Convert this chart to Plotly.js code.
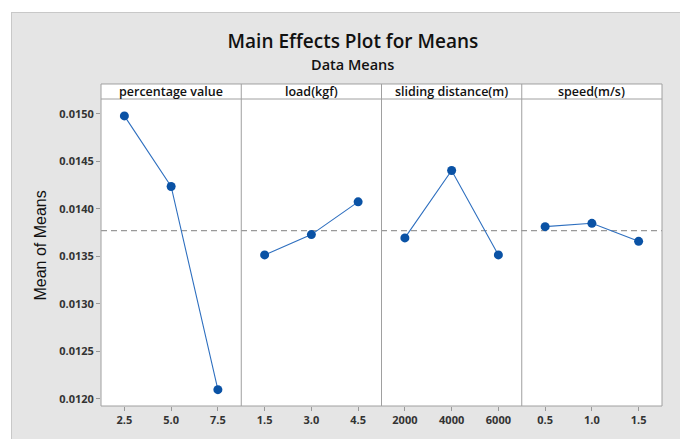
<!DOCTYPE html>
<html>
<head>
<meta charset="utf-8">
<script src="https://cdn.plot.ly/plotly-3.0.1.min.js"></script>
<style>
html,body{margin:0;padding:0;background:#ffffff;width:680px;height:439px;overflow:hidden;}
#bg{position:absolute;left:11px;top:12px;width:669px;height:427px;background:#e5e5e5;border-top:1px solid #c8c8c8;border-left:1px solid #c8c8c8;box-sizing:border-box;}
#chart{position:absolute;left:0;top:0;width:680px;height:439px;}
</style>
</head>
<body>
<div id="bg"></div>
<div id="chart"></div>
<script>
// ---- data ----
const factorNames = ["percentage value", "load(kgf)", "sliding distance(m)", "speed(m/s)"];
const levelsPct = ["2.5", "5.0", "7.5"];
const levelsLoad = ["1.5", "3.0", "4.5"];
const levelsDist = ["2000", "4000", "6000"];
const levelsSpeed = ["0.5", "1.0", "1.5"];
const meansPct = [0.01498, 0.014236, 0.012095];
const meansLoad = [0.013515, 0.013729, 0.014074];
const meansDist = [0.013694, 0.014405, 0.013515];
const meansSpeed = [0.013813, 0.013848, 0.013658];
const grandMean = 0.01377;
const yTickVals = [0.0120, 0.0125, 0.0130, 0.0135, 0.0140, 0.0145, 0.0150];

const levels = [levelsPct, levelsLoad, levelsDist, levelsSpeed];
const means = [meansPct, meansLoad, meansDist, meansSpeed];

const lineColor = "#2e6fbf";
const markerColor = "#0a52a5";
const frameColor = "#a0a0a0";
const tickFont = {family: "Open Sans, sans-serif", size: 11, color: "#333333", weight: 700};

const traces = levels.map((lv, i) => ({
  type: "scatter",
  mode: "lines+markers",
  x: lv,
  y: means[i],
  xaxis: i === 0 ? "x" : "x" + (i + 1),
  yaxis: "y",
  line: {color: lineColor, width: 1.1},
  marker: {color: markerColor, size: 9},
  showlegend: false,
  hoverinfo: "x+y"
}));

const hdr = 15 / 306.7; // header strip height in paper units
const layout = {
  width: 680,
  height: 439,
  margin: {l: 101, r: 18.3, t: 99.3, b: 33},
  paper_bgcolor: "rgba(0,0,0,0)",
  plot_bgcolor: "#ffffff",
  showlegend: false,
  title: {
    text: "Main Effects Plot for Means",
    font: {family: "Open Sans, sans-serif", size: 19, color: "#111111", weight: 600},
    x: 0.519, xanchor: "center", y: 1 - 41.5 / 439, yanchor: "middle"
  },
  yaxis: {
    range: [0.011923, 0.015158],
    tickvals: yTickVals,
    tickformat: ".4f",
    ticks: "outside",
    ticklen: 4,
    tickcolor: "#999999",
    tickfont: tickFont,
    showgrid: false,
    zeroline: false,
    showline: false,
    automargin: false
  },
  shapes: [],
  annotations: [{
    xref: "paper", yref: "paper",
    x: (41 - 101) / 560.7, y: (406 - 245.7) / 306.7,
    text: "Mean of Means", textangle: -90, showarrow: false,
    xanchor: "center", yanchor: "middle",
    font: {family: "Liberation Sans, Arial, sans-serif", size: 16, color: "#111111"}
  }, {
    xref: "paper", yref: "paper",
    x: (352.5 - 101) / 560.7, y: (406 - 64.5) / 306.7,
    text: "Data Means", showarrow: false,
    xanchor: "center", yanchor: "middle", borderpad: 0,
    font: {family: "Open Sans, sans-serif", size: 14.5, color: "#111111", weight: 600}
  }]
};

for (let i = 0; i < 4; i++) {
  const key = i === 0 ? "xaxis" : "xaxis" + (i + 1);
  layout[key] = {
    domain: [i / 4, (i + 1) / 4],
    type: "category",
    range: [-0.5, 2.5],
    anchor: "y",
    ticks: "outside",
    ticklen: 4,
    tickcolor: "#999999",
    tickfont: tickFont,
    showgrid: false,
    zeroline: false,
    showline: false,
    fixedrange: true
  };
  layout.annotations.push({
    xref: "paper", yref: "paper",
    x: (i + 0.5) / 4, y: 1 + hdr / 2,
    text: factorNames[i],
    showarrow: false,
    xanchor: "center", yanchor: "middle",
    font: {family: "Open Sans, sans-serif", size: 12.5, color: "#111111", weight: 600}
  });
  if (i > 0) {
    layout.shapes.push({type: "line", xref: "paper", yref: "paper",
      x0: i / 4, x1: i / 4, y0: 0, y1: 1 + hdr,
      line: {color: frameColor, width: 1}});
  }
}
layout.shapes.unshift({type: "rect", xref: "paper", yref: "paper",
  x0: 0, x1: 1, y0: 1, y1: 1 + hdr, fillcolor: "#ffffff",
  line: {width: 0}, layer: "below"});
layout.shapes.push({type: "rect", xref: "paper", yref: "paper",
  x0: 0, x1: 1, y0: 0, y1: 1 + hdr,
  line: {color: frameColor, width: 1}});
layout.shapes.push({type: "line", xref: "paper", yref: "paper",
  x0: 0, x1: 1, y0: 1, y1: 1,
  line: {color: frameColor, width: 1}});
layout.shapes.push({type: "line", xref: "paper", yref: "y",
  x0: 0, x1: 1, y0: grandMean, y1: grandMean,
  line: {color: "#999999", width: 1.2, dash: "6px,4px"}, layer: "below"});

Plotly.newPlot("chart", traces, layout, {displayModeBar: false, staticPlot: true});
</script>
</body>
</html>
